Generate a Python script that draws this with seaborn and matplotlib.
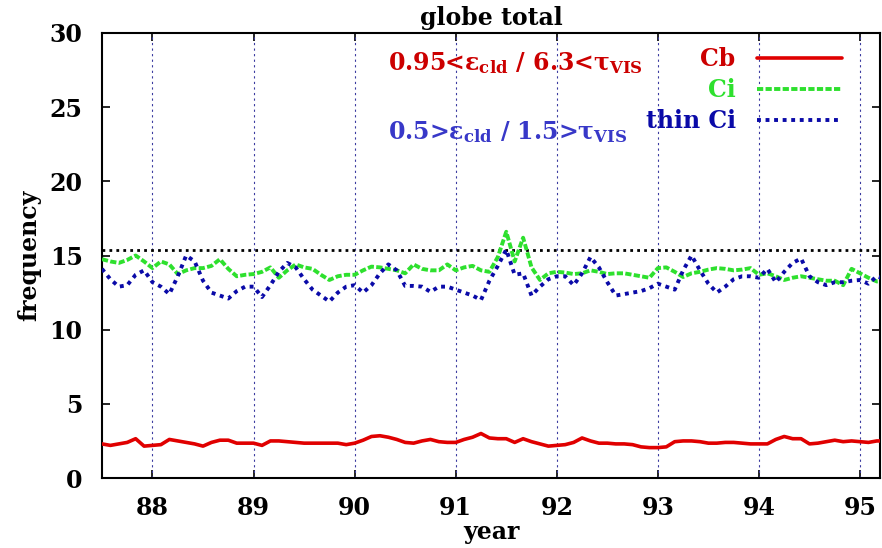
import matplotlib
matplotlib.use("Agg")
from matplotlib import pyplot as plt
import numpy as np
import pandas as pd
import seaborn as sns

# monthly values, starting mid 1987
start_year = 87.5
cb = [2.3, 2.2, 2.3, 2.4, 2.65, 2.15, 2.2, 2.25, 2.6, 2.5, 2.4, 2.3,
      2.15, 2.4, 2.55, 2.55, 2.35, 2.35, 2.35, 2.2, 2.5, 2.5, 2.45, 2.4,
      2.35, 2.35, 2.35, 2.35, 2.35, 2.25, 2.35, 2.55, 2.8, 2.85, 2.75, 2.6,
      2.4, 2.35, 2.5, 2.6, 2.45, 2.4, 2.4, 2.6, 2.75, 3.0, 2.7, 2.65,
      2.65, 2.4, 2.65, 2.45, 2.3, 2.15, 2.2, 2.25, 2.4, 2.7, 2.5, 2.35,
      2.35, 2.3, 2.3, 2.25, 2.1, 2.05, 2.05, 2.1, 2.45, 2.5, 2.5, 2.45,
      2.35, 2.35, 2.4, 2.4, 2.35, 2.3, 2.3, 2.3, 2.6, 2.8, 2.65, 2.65,
      2.3, 2.35, 2.45, 2.55, 2.45, 2.5, 2.45, 2.4, 2.5, 2.5]
ci = [14.75, 14.6, 14.5, 14.7, 15.0, 14.6, 14.15, 14.6, 14.4, 13.75, 14.0, 14.15,
      14.15, 14.3, 14.75, 14.1, 13.6, 13.7, 13.75, 13.9, 14.2, 13.5, 14.0, 14.4,
      14.2, 14.1, 13.7, 13.35, 13.6, 13.7, 13.7, 14.0, 14.25, 14.2, 14.1, 14.0,
      13.8, 14.4, 14.1, 14.0, 14.0, 14.4, 14.0, 14.2, 14.3, 14.0, 13.9, 14.9,
      16.6, 14.6, 16.2, 14.2, 13.35, 13.8, 13.9, 13.85, 13.75, 13.8, 14.0, 13.9,
      13.75, 13.8, 13.8, 13.7, 13.6, 13.5, 14.15, 14.2, 13.9, 13.55, 13.8, 13.9,
      14.05, 14.15, 14.1, 14.0, 14.05, 14.15, 13.7, 13.8, 13.6, 13.35, 13.5, 13.6,
      13.5, 13.4, 13.3, 13.3, 13.0, 14.1, 13.8, 13.5, 13.25, 13.3]
thin_ci = [14.1, 13.4, 12.9, 13.0, 13.7, 14.0, 13.2, 12.9, 12.4, 13.6, 15.0, 14.6,
           13.3, 12.5, 12.3, 12.1, 12.6, 12.9, 12.9, 12.2, 13.0, 13.9, 14.5, 14.2,
           13.4, 12.7, 12.3, 11.9, 12.5, 12.9, 13.0, 12.5, 13.0, 13.8, 14.4, 14.0,
           12.95, 12.95, 12.9, 12.55, 12.9, 12.9, 12.7, 12.5, 12.3, 12.0, 13.3, 14.3,
           15.4, 13.7, 13.8, 12.3, 12.9, 13.4, 13.6, 13.6, 13.0, 13.8, 14.9, 14.2,
           13.2, 12.3, 12.4, 12.5, 12.6, 12.8, 13.1, 12.9, 12.7, 14.0, 15.0, 14.0,
           13.1, 12.5, 12.9, 13.4, 13.6, 13.6, 13.5, 14.1, 13.2, 13.9, 14.5, 14.8,
           13.6, 13.2, 13.0, 13.2, 13.2, 13.3, 13.35, 13.1, 13.6, 13.4]
ref_level = 15.4
year_ticks = [88, 89, 90, 91, 92, 93, 94, 95]
y_ticks = [0, 5, 10, 15, 20, 25, 30]

years = start_year + np.arange(len(cb)) / 12.0
df = pd.DataFrame({"year": years, "Cb": cb, "Ci": ci, "thin Ci": thin_ci})

sns.set_style("ticks")
plt.rcParams["font.family"] = ["DejaVu Serif"]
plt.rcParams["font.weight"] = "bold"
plt.rcParams["mathtext.fontset"] = "custom"
plt.rcParams["mathtext.rm"] = "DejaVu Serif:bold"
plt.rcParams["mathtext.it"] = "DejaVu Serif:bold"
plt.rcParams["mathtext.bf"] = "DejaVu Serif:bold"
for k in ["text.color", "axes.labelcolor", "xtick.color", "ytick.color", "axes.edgecolor"]:
    plt.rcParams[k] = "black"

fig = plt.figure(figsize=(8.82, 5.48), dpi=100)
ax = fig.add_axes([0.1156, 0.1277, 0.8824, 0.8121])

for x in year_ticks:
    ax.axvline(x, color="#3a3aa0", lw=0.8, ls=(0, (2, 3)), zorder=1)
ax.axhline(ref_level, color="black", lw=2, ls=(0, (1, 1.5)), zorder=2)

sns.lineplot(data=df, x="year", y="Cb", color="#e00000", lw=2.6, label="Cb", ax=ax, zorder=3)
sns.lineplot(data=df, x="year", y="Ci", color="#2ee02e", lw=2.8, ls=(0, (1.6, 0.6)),
             label="Ci", ax=ax, zorder=3)
sns.lineplot(data=df, x="year", y="thin Ci", color="#0a0aa8", lw=2.8, ls=(0, (1, 1.2)),
             label="thin Ci", ax=ax, zorder=4)

ax.set_xlim(87.5, 95.2)
ax.set_ylim(0, 30)
ax.set_xticks(year_ticks)
ax.set_yticks(y_ticks)
ax.tick_params(direction="in", top=True, right=True, labelsize=17, length=6, width=1.2)
ax.tick_params(axis="y", pad=14)
ax.tick_params(axis="x", pad=13)
for lab in ax.get_xticklabels() + ax.get_yticklabels():
    lab.set_fontweight("bold")
for s in ax.spines.values():
    s.set_linewidth(1.5)

ax.set_title("globe total", fontsize=17, fontweight="bold", pad=6)
ax.set_xlabel("year", fontsize=17, fontweight="bold", labelpad=0)
ax.set_ylabel("frequency", fontsize=17, fontweight="bold", labelpad=6)

ax.text(90.33, 28.0, r"0.95<$\varepsilon_{\rm cld}$ / 6.3<$\tau_{\rm VIS}$",
        color="#cc0000", fontsize=17, fontweight="bold", va="center")
ax.text(90.33, 23.3, r"0.5>$\varepsilon_{\rm cld}$ / 1.5>$\tau_{\rm VIS}$",
        color="#3838c8", fontsize=17, fontweight="bold", va="center")

leg = ax.legend(loc="upper right", bbox_to_anchor=(0.969, 1.0), frameon=False,
                markerfirst=False, fontsize=17, handlelength=3.6, labelspacing=0.3,
                handletextpad=0.9, labelcolor=["#cc0000", "#2ee02e", "#0a0aa8"],
                borderaxespad=0.2)
for t in leg.get_texts():
    t.set_fontweight("bold")

fig.savefig("out.png", dpi=100)
